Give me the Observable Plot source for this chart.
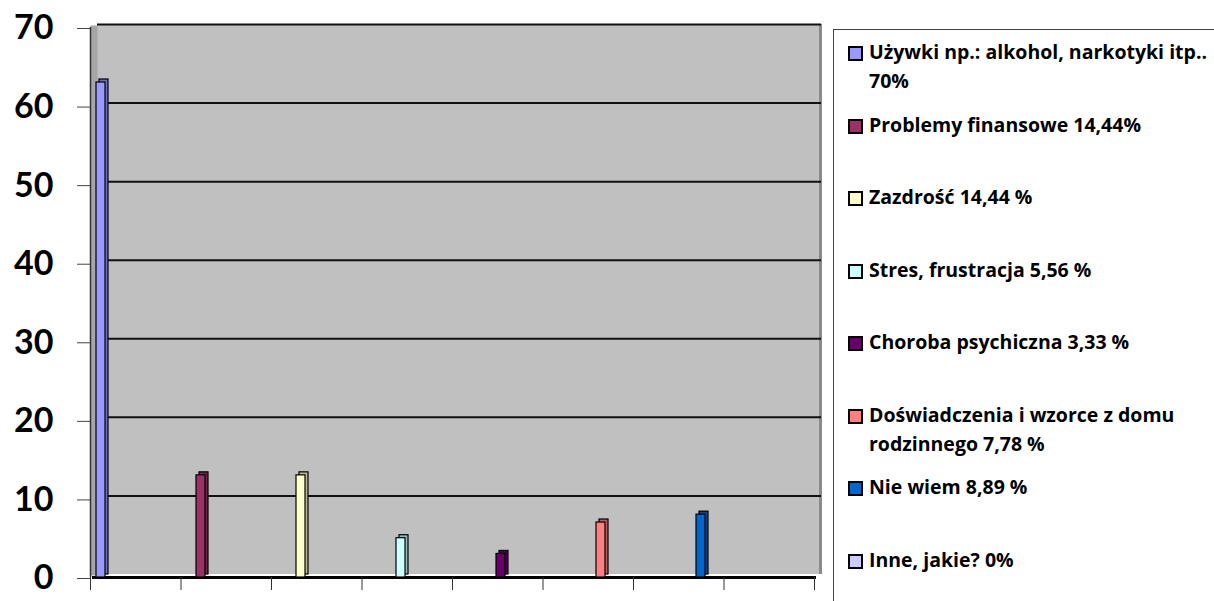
<!DOCTYPE html>
<html>
<head>
<meta charset="utf-8">
<script src="https://cdn.jsdelivr.net/npm/d3@7"></script>
<script src="https://cdn.jsdelivr.net/npm/@observablehq/plot@0.6"></script>
<style>
  html, body { margin: 0; padding: 0; background: #fff; }
  #wrap { position: relative; width: 1214px; height: 601px; overflow: hidden; font-family: "Open Sans", Lato, sans-serif; }
  #wrap svg { position: absolute; left: 0; top: 0; }
  #legend { position: absolute; left: 833px; top: 29px; width: 400px; height: 600px; border: 1px solid #444; box-sizing: border-box; }
  .entry { position: absolute; left: 14px; font-weight: 700; font-size: 19.5px; line-height: 29px; white-space: nowrap; color: #000; }
  .sw { position: absolute; left: 0; top: 9px; width: 11px; height: 11px; border: 2px solid #000; }
  .txt { position: absolute; left: 21px; top: 0; }
</style>
</head>
<body>
<div id="wrap"><div id="legend"></div></div>
<script>
// ---- data ----
const categories = [
  "Używki np.: alkohol, narkotyki itp.. 70%",
  "Problemy finansowe 14,44%",
  "Zazdrość 14,44 %",
  "Stres, frustracja 5,56 %",
  "Choroba psychiczna 3,33 %",
  "Doświadczenia i wzorce z domu rodzinnego 7,78 %",
  "Nie wiem 8,89 %",
  "Inne, jakie? 0%"
];
const values = [63, 13, 13, 5, 3, 7, 8, 0];
const colors = ["#9999FF", "#993366", "#FFFFCC", "#CCFFFF", "#660066", "#FF8080", "#0066CC", "#CCCCFF"];
const legendLines = [
  ["Używki np.: alkohol, narkotyki itp..", "70%"],
  ["Problemy finansowe 14,44%"],
  ["Zazdrość 14,44 %"],
  ["Stres, frustracja 5,56 %"],
  ["Choroba psychiczna 3,33 %"],
  ["Doświadczenia i wzorce z domu", "rodzinnego 7,78 %"],
  ["Nie wiem 8,89 %"],
  ["Inne, jakie? 0%"]
];
const yTicks = [0, 10, 20, 30, 40, 50, 60, 70];
const xTicks = [0, 1, 2, 3, 4, 5, 6, 7, 8];

const data = categories.map((c, i) => ({name: c, value: values[i], color: colors[i], side: d3.color(colors[i]).darker(0.9).formatHex()}));

const W = 833, H = 601;
const common = {width: W, height: H, marginLeft: 90, marginRight: 19, marginTop: 27, marginBottom: 24};
const yScale = {domain: [0, 70]};

// ---- frame layer (walls, grid, axes) ----
const frame = Plot.plot({
  ...common,
  style: {fontFamily: "Lato, 'Open Sans', sans-serif", background: "transparent", overflow: "visible"},
  x: {domain: [0, 8]},
  y: yScale,
  marks: [
    Plot.rect([0], {x1: 0, x2: 8, y1: 0, y2: 70, fill: "#C0C0C0", dx: 7, dy: -3}),
    Plot.ruleX([8], {y1: 0, y2: 70, stroke: "#8a8a8a", strokeWidth: 3, dx: 6, dy: -3}),
    Plot.ruleX([0], {y1: 0, y2: 70, stroke: "#a6a6a6", strokeWidth: 7, dx: 3.5, dy: -1.5}),
    Plot.ruleY(yTicks.filter(v => v > 0), {x1: 0, x2: 8, stroke: "#111", strokeWidth: 2, dx: 7, dy: -3}),
    Plot.ruleX([0], {y1: 0, y2: 70, stroke: "#333", strokeWidth: 1.5}),
    Plot.ruleY([0], {x1: 0, x2: 8, stroke: "#000", strokeWidth: 3, dx: 2}),
    Plot.axisY({ticks: yTicks, tickSize: 13, tickPadding: 24, fontSize: 34, fontWeight: "bold", dy: 1, label: null, stroke: "#444"}),
    Plot.axisX({ticks: xTicks, tickSize: 13, tickFormat: () => "", label: null, stroke: "#333"})
  ]
});

// ---- bar layer ----
const bars = Plot.plot({
  ...common,
  style: {background: "transparent", overflow: "visible"},
  x: {type: "band", domain: categories, range: [96, 807], paddingInner: 0.905, paddingOuter: 0, align: 0, axis: null},
  y: {...yScale, axis: null},
  color: {type: "identity"},
  marks: [
    Plot.rectY(data, {x: "name", y: "value", fill: "side", stroke: "#000", strokeWidth: 1.2, dx: 3, dy: -3}),
    Plot.rectY(data, {x: "name", y: "value", fill: "color", stroke: "#000", strokeWidth: 1.2})
  ]
});

const wrap = document.getElementById("wrap");
wrap.insertBefore(bars, wrap.firstChild);
wrap.insertBefore(frame, wrap.firstChild);

// ---- legend ----
const legend = document.getElementById("legend");
const slotTop = 7, slot = 72.5;
legendLines.forEach((lines, i) => {
  const e = document.createElement("div");
  e.className = "entry";
  e.style.top = (slotTop + i * slot) + "px";
  const sw = document.createElement("div");
  sw.className = "sw";
  sw.style.background = colors[i];
  const t = document.createElement("div");
  t.className = "txt";
  t.innerHTML = lines.map(l => l.replace(/&/g, "&amp;").replace(/</g, "&lt;")).join("<br>");
  e.appendChild(sw); e.appendChild(t);
  legend.appendChild(e);
});
</script>
</body>
</html>
